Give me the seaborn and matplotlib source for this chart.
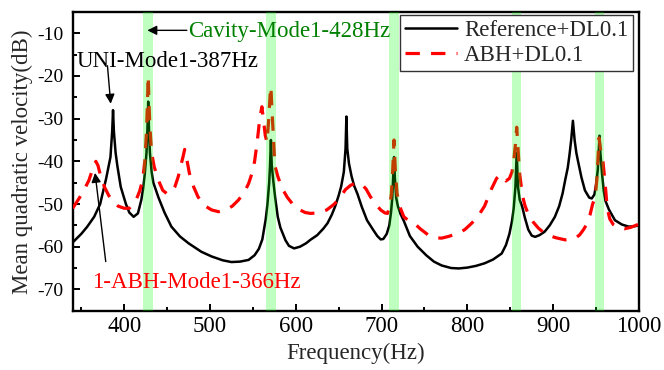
import matplotlib
matplotlib.use("Agg")
import matplotlib.pyplot as plt
from matplotlib.ticker import MultipleLocator
import seaborn as sns

# ---------------- data ----------------
ref_freq = [340, 350, 357, 365, 372, 379, 384, 386, 387, 388, 390, 392, 396, 402,
            406, 411, 416, 420, 422, 424, 426, 427, 428, 429, 430, 432, 434, 440,
            447, 455, 465, 475, 490, 502, 515, 525, 535, 545, 552, 557, 561, 565,
            567, 569, 570, 571, 572, 574, 576, 579, 582, 588, 592, 598, 605, 612,
            617, 625, 632, 637, 642, 646, 650, 653, 656, 658, 659, 660, 662, 665,
            668, 672, 677, 683, 690, 695, 699, 702, 706, 709, 711, 712.5, 713.5,
            714.5, 715.5, 717, 719, 722, 726, 733, 742, 752, 761, 770, 781, 790,
            800, 810, 820, 830, 840, 845, 849, 852, 854, 856, 857.5, 859, 861, 864,
            867, 871, 875, 879, 884, 890, 896, 902, 907, 911, 914, 917, 919, 921,
            923, 925, 927, 929, 933, 937, 942, 945, 948, 950, 952, 953, 954, 955,
            957, 959, 961, 965, 972, 980, 988, 995, 1000]
ref_db = [-59, -57, -55.3, -53, -50, -44, -39, -33, -28, -33, -38, -41, -46, -50,
          -52, -53, -52.2, -49, -46.5, -43, -38, -33, -26, -33, -38, -42.5, -45, -48.5,
          -52, -55.3, -57.6, -59.2, -61.2, -62.3, -63.2, -63.6, -63.5, -63.1, -62, -60.5, -58.3, -53.5,
          -50, -45, -41, -35, -41, -45, -48.5, -53, -55.5, -58.5, -59.8, -60.4, -60, -59.2,
          -58.4, -57.3, -55.8, -54.5, -52.5, -50.5, -48, -45.8, -42.5, -37, -29.5, -37, -40.5, -43.5,
          -45.7, -47.7, -50.7, -53.8, -56, -57.5, -58.3, -58.2, -57, -55, -52, -48.5, -44,
          -39, -44, -48.5, -50.5, -52.3, -54, -57.5, -60, -62, -63.5, -64.4, -65, -65.1,
          -64.9, -64.5, -63.9, -63, -61.6, -59.6, -57, -54, -51, -46, -38, -46, -49, -50.7,
          -53.2, -56, -57.4, -57.7, -57.3, -56.5, -55, -53, -50.5, -47.5, -44.4, -41.5, -38.5, -35,
          -30.5, -35, -38, -40, -43.8, -46.8, -48.5, -48.7, -47.8, -45.5, -42, -38, -34, -38,
          -43, -47, -49.3, -51.3, -53.8, -54.8, -55.3, -55.2, -55]

abh_freq = [340, 348, 355, 359, 362, 364.5, 367, 369.5, 372, 377, 382, 387, 393, 400,
            406, 410, 414, 418, 421.5, 424, 426, 427, 428, 429, 430, 432, 435, 440,
            445, 450, 455, 459, 463, 466, 468.5, 470.5, 472.5, 476, 481, 486, 493, 502,
            510, 518, 526, 533, 540, 545, 549, 552, 555, 558, 560.5, 562.5, 564.5, 566.5,
            568.5, 570.5, 571, 572, 573.5, 575, 576, 579, 582, 586, 590, 597, 605, 611,
            617, 625, 636, 645, 652, 658, 664, 670, 676, 682, 687, 693, 699, 704,
            707, 709.5, 711.5, 713, 714.5, 716, 718, 721, 726, 732, 738, 745, 754, 762,
            770, 778, 789, 797, 805, 812, 820, 828, 834, 838, 841, 845, 849, 852,
            854, 856, 857.5, 859, 861, 864, 867, 871, 877, 883, 889, 894, 903, 914,
            920, 926, 931, 935, 939, 943, 946, 949, 951, 953.5, 955, 958, 960.5, 963,
            966, 970, 976, 983, 990, 1000]
abh_db = [-51, -48.5, -46, -44.4, -42.5, -41, -40, -41, -43, -46, -48, -49.5, -50.5, -51,
          -51, -50, -49, -47, -44.4, -40, -33, -27, -20, -27, -32, -38, -41.3, -44.5,
          -46.8, -47.6, -47.3, -46, -43.6, -41, -39, -37.2, -39, -42.8, -46, -48.3, -50.3, -51.4,
          -51.8, -51.4, -50.5, -49.1, -47.3, -45.2, -42.8, -40, -35.5, -30, -27.2, -30.5, -34, -35.5,
          -30, -23, -22.5, -27, -33, -38.5, -41.3, -43.5, -45.2, -47, -48.4, -50.2, -51.4, -52,
          -52.2, -52.1, -51.4, -50, -48.3, -46.6, -45.6, -45.1, -45.2, -46.5, -48.3, -50, -51.4, -52.1,
          -52.2, -50.5, -47.5, -42, -35, -42, -47.5, -50.5, -53, -54, -54.5, -55.8, -57.2, -57.9,
          -58, -57.6, -56.9, -56, -54.5, -53, -50.5, -46.5, -44, -43.2, -43.6, -44.6, -44, -42.5,
          -40, -36, -32, -37, -43, -47.8, -50.3, -52.4, -54.3, -55.7, -56.7, -57.3, -57.9, -58.4,
          -58.3, -58, -57.2, -56.1, -54.8, -52.5, -50, -48.5, -44, -34.5, -37, -40, -45, -51,
          -53.5, -54.8, -55.5, -55.8, -55.5, -54.7]

band_centers = [428, 571, 714.5, 857.5, 954]

series_labels = ["Reference+DL0.1", "ABH+DL0.1"]
x_label = "Frequency(Hz)"
y_label = "Mean quadratic velocity(dB)"

# ---------------- style ----------------
sns.set_style("ticks")
plt.rcParams["font.family"] = ["Liberation Serif", "DejaVu Serif"]
plt.rcParams["axes.unicode_minus"] = False
FS = 16.5

fig = plt.figure(figsize=(6.64, 3.70), dpi=100)
ax = fig.add_axes([0.1095, 0.1603, 0.8528, 0.8073])

sns.lineplot(x=ref_freq, y=ref_db, ax=ax, color="black", lw=1.8,
             label=series_labels[0], estimator=None, sort=False, zorder=3)
sns.lineplot(x=abh_freq, y=abh_db, ax=ax, color="red", lw=2.3,
             label=series_labels[1], estimator=None, sort=False, zorder=4)
ax.lines[1].set_dashes((4.5, 3.5))

for c in band_centers:
    ax.axvspan(c - 5.5, c + 5.5, color="#00ff00", alpha=0.25, lw=0, zorder=5)

ax.set_xlim(340, 1000)
ax.set_ylim(-75, -5)
ax.xaxis.set_major_locator(MultipleLocator(100))
ax.xaxis.set_minor_locator(MultipleLocator(50))
ax.yaxis.set_major_locator(MultipleLocator(10))
ax.yaxis.set_minor_locator(MultipleLocator(5))
ax.tick_params(which="both", direction="in", top=False, right=False,
               width=1.4, colors="black")
ax.tick_params(which="major", length=5)
ax.tick_params(which="minor", length=2.8)
ax.tick_params(axis="x", which="major", labelsize=FS, pad=4)
ax.tick_params(axis="y", which="major", labelsize=14, pad=6.5)
for s in ax.spines.values():
    s.set_linewidth(1.7)
    s.set_color("black")
    s.set_visible(True)

ax.set_xlabel(x_label, fontsize=FS, labelpad=4)
ax.set_ylabel(y_label, fontsize=FS, labelpad=3)

leg = ax.legend(loc="upper right", bbox_to_anchor=(0.9894, 0.99), borderaxespad=0,
                fontsize=FS, frameon=True, fancybox=False, framealpha=1,
                edgecolor="#333333", handlelength=2.3, handletextpad=0.3,
                labelspacing=0.2, borderpad=0.2)
leg.get_frame().set_linewidth(1.0)

# annotations
arrow_kw = dict(arrowstyle="-|>", color="black", lw=1.0, mutation_scale=14,
                shrinkA=0, shrinkB=0)
ax.annotate("", xy=(427, -9.3), xytext=(473, -9.3), arrowprops=arrow_kw, zorder=6)
ax.text(474, -10.9, "Cavity-Mode1-428Hz", color="#008000", fontsize=FS,
        ha="left", va="baseline", zorder=6)

ax.text(344.5, -17.9, "UNI-Mode1-387Hz", color="black", fontsize=FS,
        ha="left", va="baseline", zorder=6)
ax.annotate("", xy=(384.3, -26.5), xytext=(380.5, -17.6), arrowprops=arrow_kw, zorder=6)

ax.text(362.5, -69.7, "1-ABH-Mode1-366Hz", color="red", fontsize=FS,
        ha="left", va="baseline", zorder=6)
ax.annotate("", xy=(366, -42.7), xytext=(378.5, -63.5), arrowprops=arrow_kw, zorder=6)

fig.savefig("out.png", dpi=100)
